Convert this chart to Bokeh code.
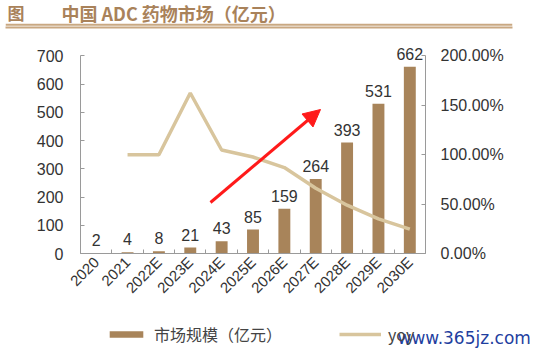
import math
from bokeh.plotting import figure
from bokeh.layouts import column
from bokeh.models import (ColumnDataSource, LinearAxis, Range1d, FixedTicker,
                          NumeralTickFormatter, LabelSet, Label, Legend, LegendItem,
                          Arrow, NormalHead, Span)
from bokeh.core.properties import value
from bokeh.embed import file_html
from bokeh.resources import INLINE

# ---- data ----
years = ["2020", "2021", "2022E", "2023E", "2024E", "2025E", "2026E",
         "2027E", "2028E", "2029E", "2030E"]
market = [2, 4, 8, 21, 43, 85, 159, 264, 393, 531, 662]
yoy = [None, 1.00, 1.00, 1.625, 1.048, 0.977, 0.87, 0.66, 0.489, 0.351, 0.247]
left_ticks = [0, 100, 200, 300, 400, 500, 600, 700]
right_ticks = [0, 0.5, 1.0, 1.5, 2.0]
series_names = ["市场规模（亿元）", "yoy"]
title_text = "中国 ADC 药物市场（亿元）"

BAR = "#a8845a"
LINE = "#d8c59d"
AXIS = "#9a9a9a"
TXT = "#333333"
BROWN = "#a9825a"
RULE = "#c9a882"
NUMFONT = "Liberation Sans"
CJK = "Noto Sans CJK SC"

idx = list(range(len(years)))
src = ColumnDataSource(dict(x=idx, v=market, lab=[str(m) for m in market]))
yx = [i for i, y in zip(idx, yoy) if y is not None]
yv = [y for y in yoy if y is not None]
lsrc = ColumnDataSource(dict(x=yx, y=yv))

# ---------------- title strip ----------------
pt = figure(width=535, height=35, output_backend="svg", toolbar_location=None,
            x_range=Range1d(0, 1), y_range=Range1d(0, 1),
            y_axis_location=None,
            min_border=0, min_border_left=5, min_border_right=23,
            min_border_top=0, min_border_bottom=8, frame_align=False)
pt.outline_line_color = None
pt.grid.visible = False
tax = pt.xaxis[0]
tax.ticker = FixedTicker(ticks=[])
tax.major_tick_in = 0
tax.major_tick_out = 0
tax.minor_tick_in = 0
tax.minor_tick_out = 0
tax.major_label_standoff = 0
tax.axis_line_color = RULE
tax.axis_line_width = 2
pt.add_layout(Span(location=0.1, dimension="width", line_color=RULE, line_width=2))
pt.add_layout(Label(x=2, y=15, x_units="screen", y_units="screen", text="图",
                    text_font=CJK, text_font_size="17px", text_font_style="bold",
                    text_color=BROWN, text_baseline="middle"))
pt.add_layout(Label(x=56, y=15, x_units="screen", y_units="screen", text=title_text,
                    text_font=CJK, text_font_size="18px", text_font_style="bold",
                    text_color=BROWN, text_baseline="middle"))

# ---------------- main chart ----------------
YTOP = 762
p = figure(width=535, height=283, output_backend="svg", toolbar_location=None,
           x_range=Range1d(-0.5, len(years) - 0.5), y_range=Range1d(0, YTOP),
           min_border_left=80, min_border_right=110, min_border_top=3,
           min_border_bottom=65, frame_align=False)
p.outline_line_color = None
p.grid.visible = False
p.extra_y_ranges = {"yoy": Range1d(0, YTOP / 350)}

bars = p.vbar(x="x", top="v", width=0.38, source=src, fill_color=BAR, line_color=None)
line = p.line(x="x", y="y", source=lsrc, y_range_name="yoy", line_color=LINE,
              line_width=3.5)

p.add_layout(LabelSet(x="x", y="v", text="lab", source=src, y_offset=7,
                      text_align="center", text_baseline="bottom",
                      text_font=value(NUMFONT), text_font_size="16px",
                      text_color=TXT))

xa = p.xaxis[0]
xa.ticker = FixedTicker(ticks=idx, minor_ticks=[i - 0.5 for i in idx] + [len(idx) - 0.5])
xa.major_label_overrides = {i: y for i, y in zip(idx, years)}
xa.major_tick_in = 0
xa.major_tick_out = 0
xa.minor_tick_in = 4
xa.minor_tick_out = 0
xa.minor_tick_line_color = AXIS
xa.axis_line_color = AXIS
xa.major_label_orientation = math.pi / 4
xa.major_label_text_font = NUMFONT
xa.major_label_text_font_size = "15px"
xa.major_label_text_color = TXT
xa.major_label_standoff = 6

ya = p.yaxis[0]
ya.ticker = FixedTicker(ticks=left_ticks)
ya.bounds = (0, 700)
ya.major_tick_in = 4
ya.major_tick_out = 0
ya.minor_tick_in = 0
ya.minor_tick_out = 0
ya.major_tick_line_color = AXIS
ya.axis_line_color = AXIS
ya.major_label_text_font = NUMFONT
ya.major_label_text_font_size = "16px"
ya.major_label_text_color = TXT
ya.major_label_standoff = 17

ra = LinearAxis(y_range_name="yoy", ticker=FixedTicker(ticks=right_ticks),
                formatter=NumeralTickFormatter(format="0.00%"), bounds=(0, 2))
ra.major_tick_in = 4
ra.major_tick_out = 0
ra.minor_tick_in = 0
ra.minor_tick_out = 0
ra.major_tick_line_color = AXIS
ra.axis_line_color = AXIS
ra.major_label_text_font = NUMFONT
ra.major_label_text_font_size = "16px"
ra.major_label_text_color = TXT
ra.major_label_standoff = 15
p.add_layout(ra, "right")

# red arrow annotation (screen units, relative to the frame's bottom-left)
p.add_layout(Arrow(x_start=130, y_start=51, x_end=240, y_end=144,
                   start_units="screen", end_units="screen",
                   line_color="#ff1a1a", line_width=3,
                   end=NormalHead(size=17, fill_color="#ff1a1a", line_color="#ff1a1a")))

# ---------------- legend strip ----------------
pl = figure(width=535, height=37, output_backend="svg", toolbar_location=None,
            x_range=Range1d(1000, 1001), y_range=Range1d(1000, 1001),
            x_axis_location=None, y_axis_location=None,
            min_border=0, min_border_left=0, min_border_right=0,
            min_border_top=0, min_border_bottom=0, frame_align=False)
pl.outline_line_color = None
pl.grid.visible = False
lb = pl.vbar(x="x", top="v", width=0.38, source=src, fill_color=BAR, line_color=None)
ll = pl.line(x="x", y="y", source=lsrc, line_color=LINE, line_width=3.5)
legend = Legend(items=[LegendItem(label=series_names[0], renderers=[lb]),
                       LegendItem(label=series_names[1], renderers=[ll])],
                orientation="horizontal", location=(105, 9),
                glyph_width=42, glyph_height=8, label_standoff=7, spacing=57,
                padding=0, margin=0, border_line_color=None,
                background_fill_alpha=0, label_text_font=CJK,
                label_text_font_size="16px", label_text_color="#444444")
pl.add_layout(legend)
pl.add_layout(Label(x=397, y=18, x_units="screen", y_units="screen",
                    text="www.365jz.com", text_font="DejaVu Sans",
                    text_font_size="17px", text_color="#1f3f9f",
                    text_baseline="middle"))

layout = column(pt, p, pl, spacing=0)
open("out.html", "w").write(file_html(layout, INLINE))
